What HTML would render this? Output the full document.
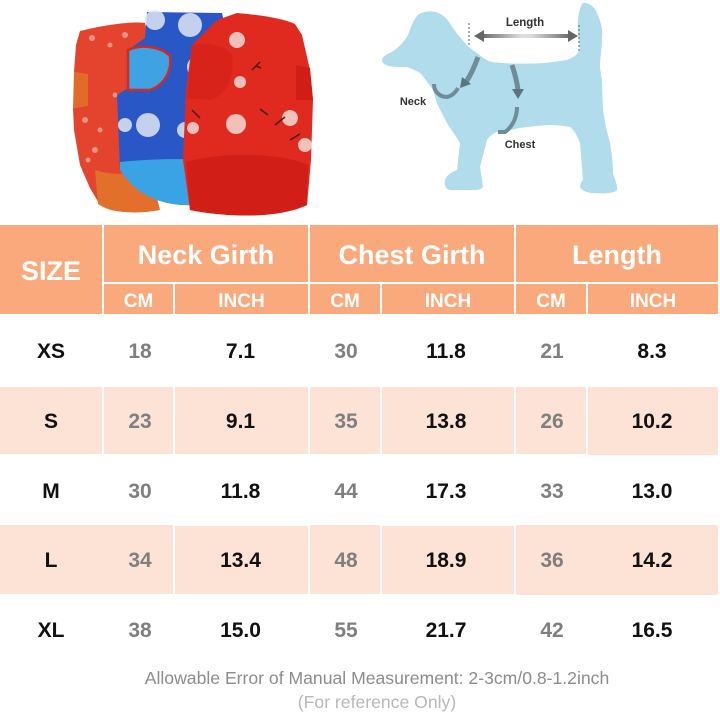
<!DOCTYPE html>
<html><head><meta charset="utf-8"><style>
html,body{margin:0;padding:0;background:#fff;}
body{width:720px;height:720px;position:relative;overflow:hidden;font-family:"Liberation Sans",Arial,sans-serif;}
.c{position:absolute;display:flex;align-items:center;justify-content:center;box-sizing:border-box;}
.h{background:#F9A97B;color:#fff;font-weight:bold;}
.p{background:#FDE3D5;}
.t{position:absolute;font-weight:bold;font-size:21px;text-align:center;line-height:24px;margin-top:-12px;}
.g{color:#7f7f7f;}
.k{color:#111;}
</style></head><body>

<svg width="720" height="222" style="position:absolute;left:0;top:0" xmlns="http://www.w3.org/2000/svg">
  <defs>
    <linearGradient id="lg" x1="0" x2="1" y1="0" y2="0">
      <stop offset="0" stop-color="#666"/><stop offset="0.45" stop-color="#ddd"/><stop offset="0.55" stop-color="#ddd"/><stop offset="1" stop-color="#666"/>
    </linearGradient>
  </defs>
  <!-- left vest -->
  <path d="M80,31 C100,26 128,21 145,23 L152,50 L145,95 L140,150 L150,210 C130,214 110,212 100,205 L90,188 L80,165 L74,130 L73,108 L86,106 L87,75 L74,72 L76,45 Z" fill="#E4432E"/>
  <path d="M74,72 L88,74 L88,106 L73,108 Z" fill="#E36B2A"/>
  <path d="M95,170 C110,175 130,175 150,170 L160,210 C135,215 110,212 98,204 Z" fill="#E2702A"/>
  <g fill="#f7c9c0" opacity="0.6">
    <circle cx="92" cy="38" r="3"/><circle cx="110" cy="45" r="2.5"/><circle cx="125" cy="35" r="3"/><circle cx="85" cy="120" r="3"/><circle cx="100" cy="130" r="2.5"/><circle cx="95" cy="150" r="3"/><circle cx="115" cy="95" r="2.5"/><circle cx="128" cy="115" r="3"/><circle cx="88" cy="160" r="2.5"/>
  </g>
  <!-- blue vest -->
  <path d="M147,12 L222,13 L228,40 L200,85 L195,150 L193,205 C170,206 140,200 120,170 L117,95 L128,88 L128,50 L145,38 Z" fill="#2A57C6"/>
  <path d="M128,50 C140,44 160,46 170,56 C172,70 165,85 150,90 L128,90 Z" fill="#3FA2E2" stroke="#D02A25" stroke-width="2.5"/>
  <path d="M120,162 C140,160 175,158 195,160 L193,205 C165,206 138,198 120,170 Z" fill="#3AA3E6"/>
  <g fill="#dfe7f5" opacity="0.85">
    <circle cx="155" cy="20" r="10"/><circle cx="190" cy="25" r="12"/><circle cx="198" cy="67" r="11"/><circle cx="148" cy="125" r="12"/><circle cx="125" cy="125" r="7"/><circle cx="185" cy="130" r="8"/>
  </g>
  <!-- red vest -->
  <path d="M217,20 L237,13 C260,15 282,18 295,24 L302,35 L310,70 L313,100 L311,160 L307,205 C280,218 230,218 190,210 L183,160 L186,90 L192,45 Z" fill="#E12A1F"/>
  <path d="M192,45 C205,42 225,44 232,55 C235,75 228,95 210,100 L187,98 Z" fill="#D7231A"/>
  <path d="M296,65 L310,68 L313,100 L296,100 Z" fill="#D01E16"/>
  <path d="M186,162 C220,152 280,152 308,165 L307,205 C280,218 230,218 190,210 Z" fill="#D11E17"/>
  <g fill="#f4dcd4" opacity="0.85">
    <circle cx="236" cy="124" r="10"/><circle cx="237" cy="40" r="8"/><circle cx="290" cy="118" r="8"/><circle cx="305" cy="145" r="7"/><circle cx="240" cy="82" r="6"/><circle cx="193" cy="128" r="6"/>
  </g>
  <g stroke="#4a1b14" stroke-width="1.5" fill="none">
    <path d="M252,70 l8,-8 m-4,4 l5,2 M268,115 l-8,-6 M275,125 l10,-8 M290,140 l10,-6 M200,118 l-8,-8"/>
  </g>

  <!-- dog -->
  <path d="M382,60 C383,56 387,54 392,52 C398,48 404,42 408,35 C411,27 414,18 419,14 C425,11 431,11 436,12 C442,14 446,18 449,22 C453,28 456,33 460,37 C466,45 472,50 477,53 C483,58 487,61 492,62 C505,64 530,64 545,63 L567,60 C573,58 578,54 580,50 C579,40 577,30 578,20 C579,12 580,6 583,3 C588,2 594,6 597,13 C601,22 603,30 602,37 C602,48 600,58 600,67 C601,75 602,80 602,83 L603,110 C605,125 608,135 610,143 C612,155 613,165 613,173 C615,180 618,186 617,190 C615,193 605,194 593,193 C587,193 581,190 580,187 C580,184 582,181 583,180 L580,143 C577,135 574,130 570,127 C560,125 552,125 547,125 C535,126 527,127 520,128 C510,130 503,132 497,132 C492,134 489,137 487,140 L480,167 L483,187 C480,190 477,190 473,190 L450,190 C446,189 444,186 445,180 C446,176 450,173 457,170 L460,143 C456,136 451,130 447,123 C443,115 440,110 437,103 C435,97 434,93 433,90 C428,83 424,77 420,73 C415,70 410,68 407,67 C400,67 394,67 389,66 C385,65 382,63 382,60 Z" fill="#B0DCEC"/>
  <!-- length arrow -->
  <line x1="469" y1="23" x2="469" y2="47" stroke="#777" stroke-width="1.2" stroke-dasharray="2,2"/>
  <line x1="579" y1="25" x2="579" y2="53" stroke="#777" stroke-width="1.2" stroke-dasharray="2,2"/>
  <rect x="480" y="34" width="92" height="4" fill="url(#lg)"/>
  <path d="M474,36 L484,30 L484,42 Z" fill="#666"/>
  <path d="M578,36 L568,30 L568,42 Z" fill="#666"/>
  <text x="525" y="26" font-family="Liberation Sans, sans-serif" font-weight="bold" font-size="11.5" fill="#333" text-anchor="middle">Length</text>
  <!-- neck arrow -->
  <path d="M478,57 C474,68 470,76 466,82" stroke="#6f8c98" stroke-width="5" fill="none"/>
  <path d="M460,88 L462,77 L471,84 Z" fill="#5a7480"/>
  <path d="M434,84 C434,92 440,97 447,97 C452,96 456,92 458,88" stroke="#6f8c98" stroke-width="4" fill="none"/>
  <text x="413" y="105" font-family="Liberation Sans, sans-serif" font-weight="bold" font-size="11" fill="#333" text-anchor="middle">Neck</text>
  <!-- chest arrow -->
  <path d="M512,65 C515,74 517,82 518,90" stroke="#6f8c98" stroke-width="5" fill="none"/>
  <path d="M518,99 L512,89 L524,89 Z" fill="#5a7480"/>
  <path d="M517,107 C517,118 512,127 505,132 L498,132" stroke="#6f8c98" stroke-width="4" fill="none"/>
  <text x="520" y="148" font-family="Liberation Sans, sans-serif" font-weight="bold" font-size="11" fill="#333" text-anchor="middle">Chest</text>
</svg>

<!-- header -->
<div class="c h" style="left:0;top:225px;width:102px;height:89px;font-size:27px;padding-top:4px;">SIZE</div>
<div class="c h" style="left:104px;top:225px;width:204px;height:57px;font-size:27px;padding-top:4px;">Neck Girth</div>
<div class="c h" style="left:310px;top:225px;width:204px;height:57px;font-size:27px;padding-top:4px;">Chest Girth</div>
<div class="c h" style="left:516px;top:225px;width:202px;height:57px;font-size:27px;padding-top:4px;">Length</div>
<div class="c h" style="left:104px;top:284px;width:69px;height:30px;font-size:19px;padding-top:5px;">CM</div>
<div class="c h" style="left:175px;top:284px;width:133px;height:30px;font-size:19px;padding-top:5px;">INCH</div>
<div class="c h" style="left:310px;top:284px;width:70px;height:30px;font-size:19px;padding-top:5px;">CM</div>
<div class="c h" style="left:382px;top:284px;width:132px;height:30px;font-size:19px;padding-top:5px;">INCH</div>
<div class="c h" style="left:516px;top:284px;width:70px;height:30px;font-size:19px;padding-top:5px;">CM</div>
<div class="c h" style="left:588px;top:284px;width:130px;height:30px;font-size:19px;padding-top:5px;">INCH</div>

<!-- pink rows S (387-454) and L (525-595) -->
<div class="c p" style="left:0;top:387px;width:102px;height:67px;"></div>
<div class="c p" style="left:104px;top:387px;width:69px;height:67px;"></div>
<div class="c p" style="left:175px;top:387px;width:133px;height:67px;"></div>
<div class="c p" style="left:310px;top:387px;width:70px;height:67px;"></div>
<div class="c p" style="left:382px;top:387px;width:132px;height:67px;"></div>
<div class="c p" style="left:516px;top:387px;width:70px;height:67px;"></div>
<div class="c p" style="left:588px;top:387px;width:130px;height:68px;"></div>

<div class="c p" style="left:0;top:525px;width:173px;height:69px;"></div>
<div class="c p" style="left:175px;top:526px;width:133px;height:68px;"></div>
<div class="c p" style="left:310px;top:525px;width:70px;height:69px;"></div>
<div class="c p" style="left:382px;top:526px;width:132px;height:68px;"></div>
<div class="c p" style="left:516px;top:525px;width:202px;height:70px;"></div>

<!-- row text -->
<div class="t k" style="left:0;width:102px;top:352px;">XS</div>
<div class="t g" style="left:104px;width:72px;top:352px;">18</div>
<div class="t k" style="left:175px;width:131px;top:352px;">7.1</div>
<div class="t g" style="left:310px;width:72px;top:352px;">30</div>
<div class="t k" style="left:382px;width:128px;top:352px;">11.8</div>
<div class="t g" style="left:516px;width:72px;top:352px;">21</div>
<div class="t k" style="left:588px;width:128px;top:352px;">8.3</div>

<div class="t k" style="left:0;width:102px;top:422px;">S</div>
<div class="t g" style="left:104px;width:72px;top:422px;">23</div>
<div class="t k" style="left:175px;width:131px;top:422px;">9.1</div>
<div class="t g" style="left:310px;width:72px;top:422px;">35</div>
<div class="t k" style="left:382px;width:128px;top:422px;">13.8</div>
<div class="t g" style="left:516px;width:72px;top:422px;">26</div>
<div class="t k" style="left:588px;width:128px;top:422px;">10.2</div>

<div class="t k" style="left:0;width:102px;top:492px;">M</div>
<div class="t g" style="left:104px;width:72px;top:492px;">30</div>
<div class="t k" style="left:175px;width:131px;top:492px;">11.8</div>
<div class="t g" style="left:310px;width:72px;top:492px;">44</div>
<div class="t k" style="left:382px;width:128px;top:492px;">17.3</div>
<div class="t g" style="left:516px;width:72px;top:492px;">33</div>
<div class="t k" style="left:588px;width:128px;top:492px;">13.0</div>

<div class="t k" style="left:0;width:102px;top:561px;">L</div>
<div class="t g" style="left:104px;width:72px;top:561px;">34</div>
<div class="t k" style="left:175px;width:131px;top:561px;">13.4</div>
<div class="t g" style="left:310px;width:72px;top:561px;">48</div>
<div class="t k" style="left:382px;width:128px;top:561px;">18.9</div>
<div class="t g" style="left:516px;width:72px;top:561px;">36</div>
<div class="t k" style="left:588px;width:128px;top:561px;">14.2</div>

<div class="t k" style="left:0;width:102px;top:631px;">XL</div>
<div class="t g" style="left:104px;width:72px;top:631px;">38</div>
<div class="t k" style="left:175px;width:131px;top:631px;">15.0</div>
<div class="t g" style="left:310px;width:72px;top:631px;">55</div>
<div class="t k" style="left:382px;width:128px;top:631px;">21.7</div>
<div class="t g" style="left:516px;width:72px;top:631px;">42</div>
<div class="t k" style="left:588px;width:128px;top:631px;">16.5</div>

<!-- footer -->
<div style="position:absolute;left:77px;width:600px;top:667px;text-align:center;font-size:17.6px;line-height:22px;color:#8c8c8c;">Allowable Error of Manual Measurement: 2-3cm/0.8-1.2inch</div>
<div style="position:absolute;left:77px;width:600px;top:691px;text-align:center;font-size:17.6px;line-height:22px;color:#b8b8b8;">(For reference Only)</div>
</body></html>
